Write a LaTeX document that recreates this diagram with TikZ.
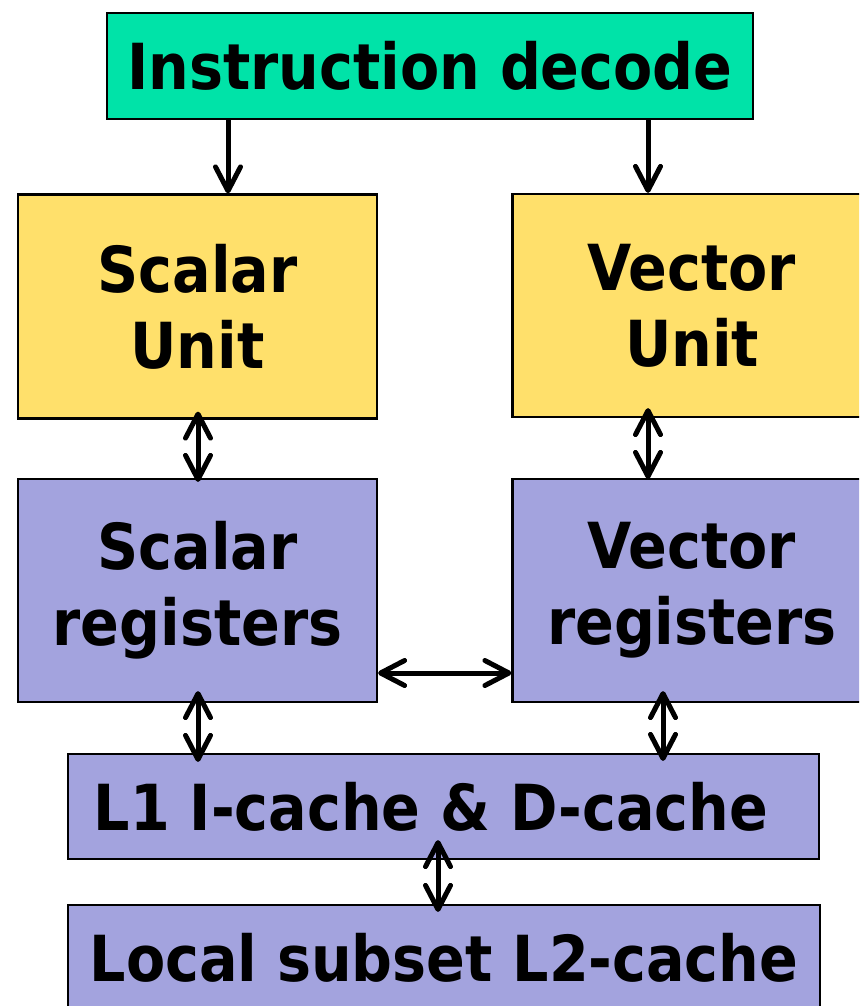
\documentclass[tikz,border=0pt]{standalone}
\usepackage{fontspec}
\newfontfamily\boxfont{DejaVu Sans Condensed Bold}
\usetikzlibrary{arrows.meta}
\definecolor{decgreen}{RGB}{0,227,168}
\definecolor{unityellow}{RGB}{255,224,107}
\definecolor{regblue}{RGB}{163,163,222}
\tikzset{
  boxbase/.style={draw=black, line width=2.2pt, inner sep=0pt, align=center,
    font=\boxfont\fontsize{63.5}{76}\selectfont},
  decbox/.style={boxbase, fill=decgreen, minimum width=646pt, minimum height=106pt},
  unitbox/.style={boxbase, fill=unityellow, minimum width=359pt, minimum height=224pt},
  regbox/.style={boxbase, fill=regblue, minimum width=359pt, minimum height=223pt},
  cachebox/.style={boxbase, fill=regblue, minimum width=751pt, minimum height=105pt},
  boxtext/.style={inner sep=0pt, font=\boxfont\fontsize{63.5}{76}\selectfont},
  tipa/.tip={Straight Barb[length=24pt,width=25pt,round]},
  link/.style={line width=5pt, -tipa},
  dlink/.style={line width=5pt, tipa-tipa},
}
\begin{document}
\begin{tikzpicture}[x=1pt,y=-1pt]
\useasboundingbox (0,0) rectangle (859,1006);
\clip (0,0) rectangle (859,1006);
\fill[white] (0,0) rectangle (859,1006);

\node[decbox] (dec) at (430,66) {Instruction decode};
\node[unitbox] (su) at (197.5,306.5) {Scalar\\Unit};
\node[unitbox, minimum height=223pt] (vu) at (692,305.5) {Vector\\Unit};
\node[regbox] (sr) at (197.5,590.5) {Scalar\\registers};
\node[regbox] (vr) at (692,590.5) {Vector\\registers};
\node[cachebox] (l1) at (443.5,806.5) {};
\node[boxtext] (l1t) at (431,806.5) {L1 I-cache \& D-cache};
\node[cachebox, minimum width=752pt] (l2) at (444,957.5) {Local subset L2-cache};

\coordinate (xa) at (228,0);
\coordinate (xb) at (648,0);
\coordinate (xc) at (198,0);
\coordinate (xd) at (663,0);
\coordinate (xe) at (438,0);
\coordinate (hy) at (0,673);

\draw[link] (dec.south -| xa) -- (su.north -| xa);
\draw[link] (dec.south -| xb) -- (vu.north -| xb);
\draw[dlink, shorten <=-8pt, shorten >=-4pt] (su.south -| xc) -- (sr.north -| xc);
\draw[dlink, shorten <=-10pt, shorten >=-1pt] (vu.south -| xb) -- (vr.north -| xb);
\draw[dlink] (sr.east |- hy) -- (vr.west |- hy);
\draw[dlink, shorten <=-12pt, shorten >=-9pt] (sr.south -| xc) -- (l1.north -| xc);
\draw[dlink, shorten <=-12pt, shorten >=-8pt] (vr.south -| xd) -- (l1.north -| xd);
\draw[dlink, shorten <=-20pt, shorten >=-8pt] (l1.south -| xe) -- (l2.north -| xe);
\end{tikzpicture}
\end{document}
